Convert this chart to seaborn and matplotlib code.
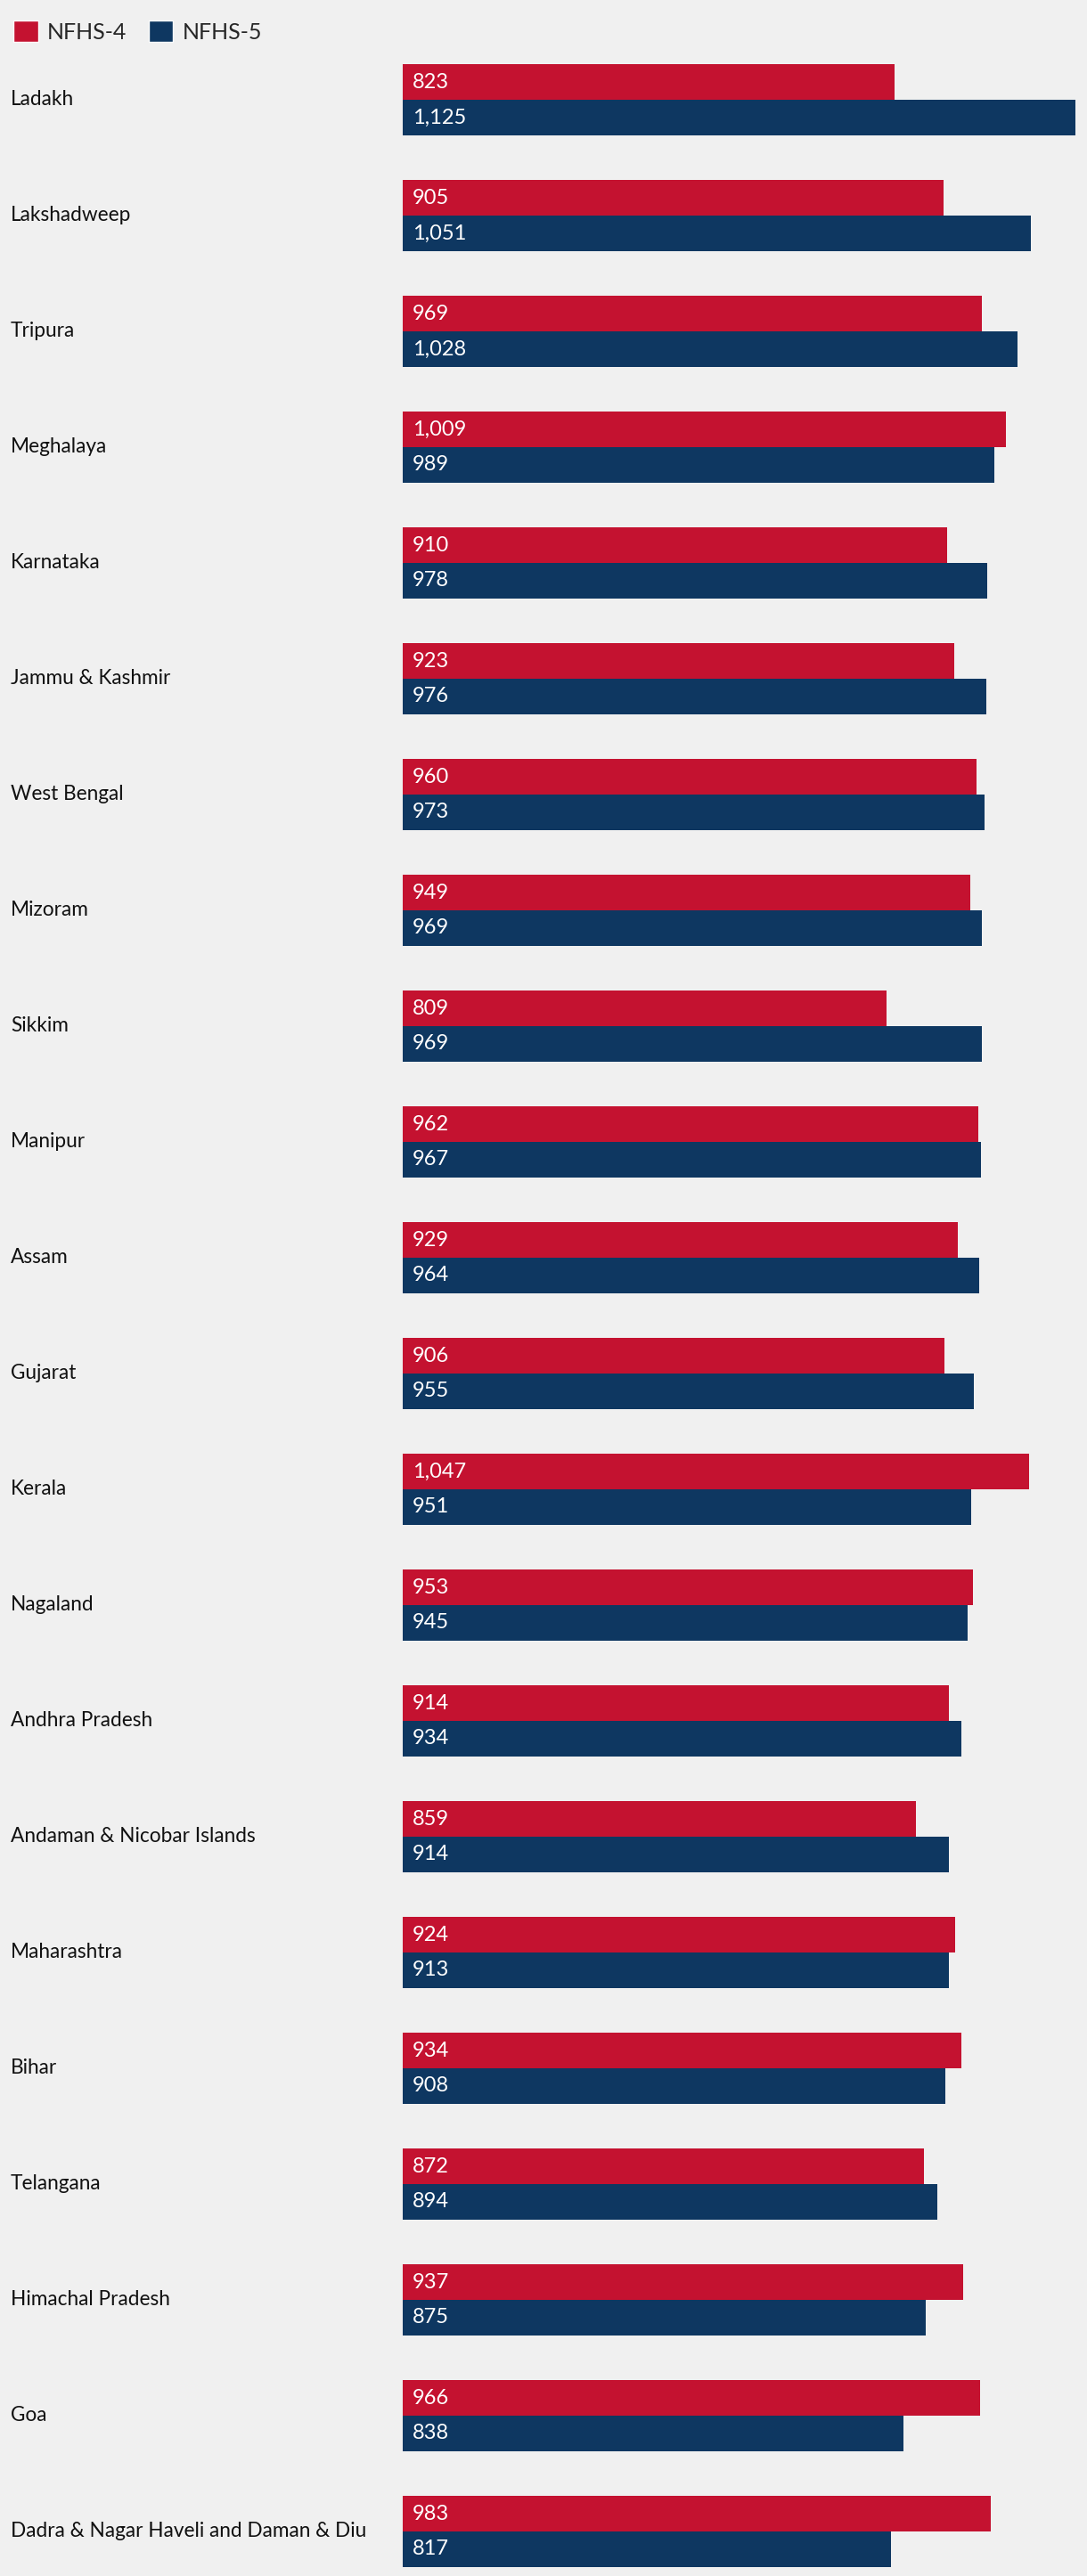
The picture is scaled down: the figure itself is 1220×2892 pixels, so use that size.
import matplotlib
matplotlib.use('Agg')
import matplotlib.pyplot as plt
import matplotlib.transforms as mtransforms
from matplotlib.patches import Patch
import pandas as pd
import seaborn as sns

states = ['Ladakh', 'Lakshadweep', 'Tripura', 'Meghalaya', 'Karnataka',
          'Jammu & Kashmir', 'West Bengal', 'Mizoram', 'Sikkim', 'Manipur',
          'Assam', 'Gujarat', 'Kerala', 'Nagaland', 'Andhra Pradesh',
          'Andaman & Nicobar Islands', 'Maharashtra', 'Bihar', 'Telangana',
          'Himachal Pradesh', 'Goa', 'Dadra & Nagar Haveli and Daman & Diu']
nfhs4 = [823, 905, 969, 1009, 910, 923, 960, 949, 809, 962, 929, 906, 1047,
         953, 914, 859, 924, 934, 872, 937, 966, 983]
nfhs5 = [1125, 1051, 1028, 989, 978, 976, 973, 969, 969, 967, 964, 955, 951,
         945, 934, 914, 913, 908, 894, 875, 838, 817]
series = ['NFHS-4', 'NFHS-5']
colors = ['#C41230', '#0E3761']

df = pd.DataFrame({'State': states * 2,
                   'Survey': [series[0]] * len(states) + [series[1]] * len(states),
                   'Value': nfhs4 + nfhs5})

sns.set_theme(style='white')
BG = '#F0F0F0'
plt.rcParams['font.family'] = ['Lato', 'DejaVu Sans']

W, H = 1220, 2892
fig = plt.figure(figsize=(W / 100, H / 100), dpi=100, facecolor=BG)
left = 452
ax = fig.add_axes([left / W, 0, 1 - left / W, (H - 47) / H])
ax.set_facecolor(BG)

sns.barplot(data=df, y='State', x='Value', hue='Survey', palette=colors,
            order=states, hue_order=series, width=0.615, orient='h',
            saturation=1, linewidth=0, ax=ax, legend=False)

ax.set_xlim(0, (W - left) / (755 / 1125))
ax.set_ylim(len(states) - 1 + (H - 112 - 130 * 21) / 130, -0.5)
ax.set_xlabel('')
ax.set_ylabel('')
ax.set_xticks([])
ax.set_yticks([])
sns.despine(ax=ax, left=True, bottom=True)

# value labels inside the bars
for cont in ax.containers:
    for bar in cont:
        v = bar.get_width()
        ax.annotate(f'{int(v):,}', xy=(0, bar.get_y() + bar.get_height() / 2),
                    xytext=(8, 0), textcoords='offset points', va='center',
                    ha='left', color='white', fontsize=17)

# state names on the left
trans = mtransforms.blended_transform_factory(fig.transFigure, ax.transData)
for i, s in enumerate(states):
    ax.text(12 / W, i, s, transform=trans, va='center', ha='left',
            fontsize=16.3, color='#111111')

handles = [Patch(facecolor=c, label=s) for c, s in zip(colors, series)]
fig.legend(handles=handles, loc='upper left', bbox_to_anchor=(0, 1 - 8 / H),
           ncol=2, frameon=False, fontsize=18, handlelength=1.1,
           handleheight=1.1, handletextpad=0.4, columnspacing=1.0,
           borderaxespad=0.2)

fig.savefig('out.png', dpi=100, facecolor=BG)
